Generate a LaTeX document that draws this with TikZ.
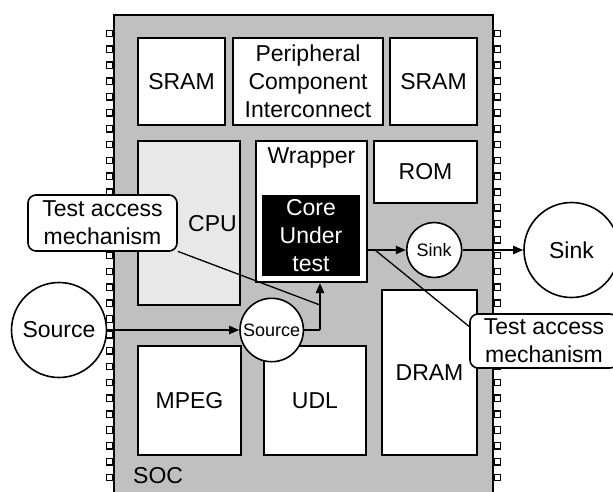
\documentclass[tikz,border=0pt]{standalone}
\usepackage{fontspec}
\setmainfont{Liberation Sans}
\usetikzlibrary{arrows.meta}
\definecolor{socgray}{HTML}{C0C0C0}
\definecolor{cpugray}{HTML}{E8E8E8}
\begin{document}
\begin{tikzpicture}[x=1pt,y=-1pt,
  every node/.style={font=\fontsize{23}{28}\selectfont},
  blk/.style={draw, line width=2pt, fill=white, inner sep=0pt, align=center},
  pin/.style={draw, line width=1.35pt, fill=white},
  circ/.style={circle, draw, line width=1.6pt, fill=white, inner sep=0pt},
  smallfont/.style={font=\fontsize{18}{21}\selectfont},
  arr/.style={line width=2.2pt, -{Triangle[length=10pt,width=8pt]}},
  tamline/.style={line width=1.3pt},
  tambox/.style={draw, line width=1.6pt, fill=white, rounded corners=8pt, inner sep=0pt, align=center}
]
\useasboundingbox (0,0) rectangle (613,491);
\clip (0,0) rectangle (613,491);
% SOC die
\fill[socgray] (114,15) rectangle (493,500);
\draw[line width=2pt] (114,500) -- (114,15) -- (493,15) -- (493,500);
% pins
\foreach \k in {0,...,28}{
  \pgfmathsetmacro{\yy}{33.5+15.86*\k}
  \draw[pin] (106.5,\yy-3.2) rectangle (113,\yy+3.2);
  \draw[pin] (494,\yy-3.2) rectangle (500.5,\yy+3.2);
}
% blocks
\node[blk, minimum width=87, minimum height=87] (sram1) at (181.5,81.5) {SRAM};
\node[blk, minimum width=150, minimum height=87] (pci) at (308,81.5) {Peripheral\\Component\\Interconnect};
\node[blk, minimum width=87, minimum height=87] (sram2) at (433.5,81.5) {SRAM};
\node[blk, fill=cpugray, minimum width=102, minimum height=164] (cpu) at (189,223) {};
\node (cputxt) at (212.5,224) {CPU};
\node[blk, minimum width=111, minimum height=141] (wrapper) at (311.5,211.5) {};
\node[anchor=base] (wraptxt) at (311.5,163) {Wrapper};
\node[blk, fill=black, text=white, minimum width=96, minimum height=79] (core) at (311,235.5) {Core\\Under\\test};
\node[blk, minimum width=103, minimum height=62] (rom) at (425.5,172) {ROM};
\node[blk, minimum width=103, minimum height=109] (mpeg) at (189.5,400.5) {MPEG};
\node[blk, minimum width=102, minimum height=109] (udl) at (315,400.5) {UDL};
\node[blk, minimum width=95, minimum height=165] (dram) at (429.5,372.5) {DRAM};
\node[anchor=base west, inner sep=0pt] (soc) at (133,483) {SOC};
% sources and sinks
\node[circ, minimum size=95] (srcbig) at (59,330) {Source};
\node[circ, smallfont, minimum size=63.4] (srcsm) at (271.7,330) {Source};
\node[circ, smallfont, minimum size=55] (sinksm) at (434.2,250) {Sink};
\node[circ, minimum size=95] (sinkbig) at (571.5,250) {Sink};
% connectors
\coordinate (bend) at (320,330);
\draw[arr] (srcbig) -- (srcsm);
\draw[line width=2.2pt] (srcsm) -- (bend);
\draw[arr] (bend) -- (bend |- wrapper.south);
\draw[arr] (wrapper.east |- sinksm) -- (sinksm);
\draw[arr] (sinksm) -- (sinkbig);
% test access mechanism callouts
\coordinate (tamLend) at (320,305);
\coordinate (tamRout) at (375,250);
\coordinate (tamRin) at (471,328);
\node[tambox, minimum width=149, minimum height=56] (tamL) at (102.5,223) {Test access\\mechanism};
\draw[tamline] (tamL) -- (tamLend);
\draw[tamline] (tamRout) -- (tamRin);
\node[tambox, minimum width=148, minimum height=54] (tamR) at (544,341) {Test access\\mechanism};
\end{tikzpicture}
\end{document}
